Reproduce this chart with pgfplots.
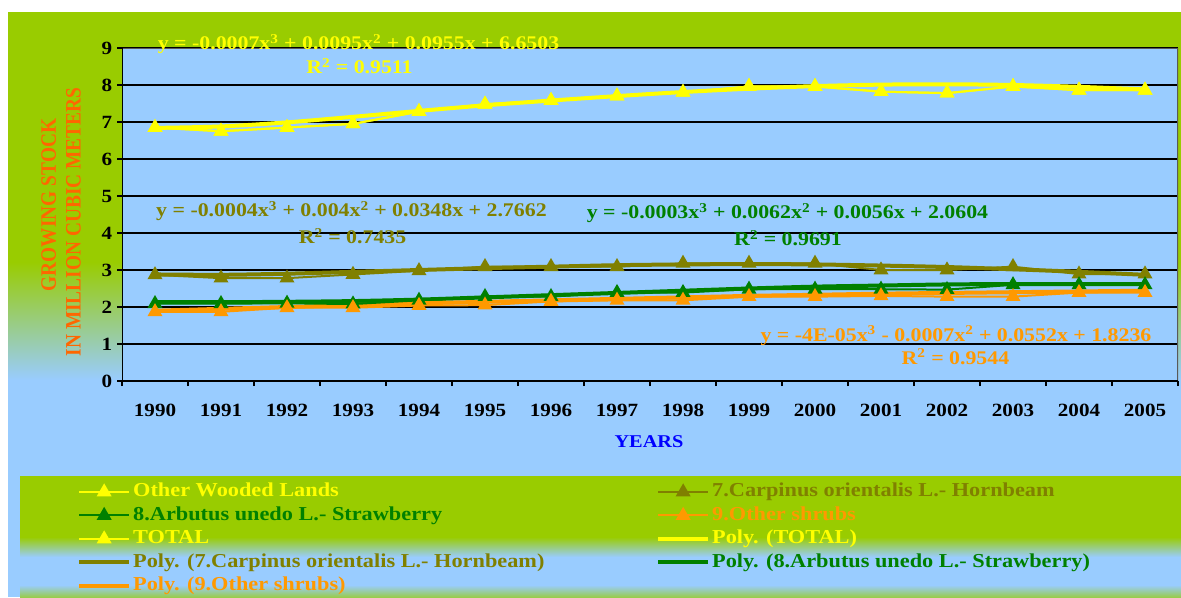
\documentclass[border=0pt]{standalone}
\usepackage{fontspec}
\setmainfont{Liberation Serif}[FakeStretch=1.13]
\newfontfamily\ylabfont{Liberation Serif}[FakeStretch=0.88]
\usepackage{pgfplots}
\usepackage{pgfplotstable}
\pgfplotsset{compat=1.18}
\definecolor{cgreen}{HTML}{99CC00}
\definecolor{cblue}{HTML}{99CCFF}
\definecolor{tyellow}{HTML}{FFFF00}
\definecolor{tolive}{HTML}{808000}
\definecolor{tgreen}{HTML}{008000}
\definecolor{torange}{HTML}{FF9900}
\definecolor{tlabel}{HTML}{FF6600}
\definecolor{tyears}{HTML}{0000FF}

\pgfplotstableread{
x total hornbeam arbutus shrubs
1 6.85 2.87 2.09 1.87
2 6.75 2.78 2.09 1.87
3 6.85 2.78 2.10 1.98
4 6.95 2.88 2.08 1.98
5 7.28 2.98 2.18 2.04
6 7.48 3.09 2.28 2.05
7 7.58 3.09 2.28 2.15
8 7.70 3.09 2.39 2.18
9 7.80 3.18 2.39 2.18
10 7.96 3.18 2.48 2.28
11 7.96 3.18 2.48 2.28
12 7.82 3.00 2.48 2.30
13 7.78 3.00 2.47 2.28
14 7.96 3.09 2.60 2.28
15 7.86 2.89 2.60 2.39
16 7.86 2.89 2.60 2.39
}\datatable

\pgfplotstableread{
x total hornbeam arbutus shrubs
1 6.84 2.88 2.13 1.90
2 6.88 2.87 2.13 1.95
3 6.99 2.90 2.14 2.00
4 7.14 2.95 2.16 2.05
5 7.30 3.00 2.20 2.10
6 7.45 3.05 2.26 2.14
7 7.58 3.09 2.32 2.18
8 7.70 3.13 2.38 2.22
9 7.81 3.15 2.44 2.26
10 7.90 3.16 2.50 2.30
11 7.97 3.15 2.55 2.33
12 8.01 3.12 2.58 2.36
13 8.02 3.08 2.61 2.38
14 8.00 3.02 2.62 2.40
15 7.95 2.95 2.62 2.42
16 7.88 2.87 2.62 2.44
}\trendtable

\newcommand{\eqfont}{\bfseries\fontsize{14.5}{14.5}\selectfont}
\newcommand{\colone}[1]{\makebox[390.75pt][l]{#1}}

\begin{document}
\begin{tikzpicture}
% backgrounds
\fill[white] (0,0) rectangle (885.75pt,447.75pt);
\fill[cgreen] (6pt,251.25pt) rectangle (885.75pt,438.75pt);
\shade[top color=cgreen, bottom color=cblue] (6pt,162.75pt) rectangle (885.75pt,251.25pt);
\fill[cblue] (6pt,0pt) rectangle (885.75pt,162.75pt);
% legend box
\fill[cgreen] (15pt,45pt) rectangle (885.75pt,90.75pt);
\shade[top color=cgreen, bottom color=cblue] (15pt,30pt) rectangle (885.75pt,45pt);
\fill[cblue] (15pt,9pt) rectangle (885.75pt,30pt);
\shade[top color=cblue, bottom color=cgreen!70!cblue] (15pt,0pt) rectangle (885.75pt,9pt);

\begin{axis}[
  at={(91.5pt,162pt)}, anchor=south west,
  scale only axis, width=792pt, height=249.75pt,
  xmin=0.5, xmax=16.5, ymin=0, ymax=9,
  ytick={0,...,9},
  xtick={0.5,1.5,...,16.5}, xticklabels={},
  extra x ticks={1,2,...,16},
  extra x tick labels={1990,1991,1992,1993,1994,1995,1996,1997,1998,1999,2000,2001,2002,2003,2004,2005},
  extra x tick style={major tick length=0pt, grid=none, tick label style={yshift=-13.5pt}},
  tick align=outside, major tick length=3.75pt,
  xtick pos=bottom, ytick pos=left,
  ymajorgrids, grid style={black, line width=1.2pt},
  axis line style={draw=none},
  axis background/.style={fill=cblue},
  tick style={black, line width=1pt},
  tick label style={font=\bfseries\fontsize{14}{14}\selectfont, /pgf/number format/assume math mode=true},
  every mark/.append style={yshift=-1.25pt},
  legend image code/.code={\draw[mark repeat=2,mark phase=2] plot coordinates {(0pt,0pt) (18.75pt,0pt) (37.5pt,0pt)};},
  legend columns=2,
  legend cell align=left,
  legend style={at={(axis description cs:-0.0427,-0.2973)}, anchor=north west,
    draw=none, fill=none, inner sep=0pt, column sep=1.5pt, row sep=0pt,
    font=\bfseries\fontsize{14.8}{14.8}\selectfont,
    nodes={inner sep=0pt, text height=12.3pt, text depth=5.3pt}},
]
% trend lines
\addplot[forget plot, tyellow, line width=3pt, smooth] table[x=x,y=total] {\trendtable};
\addplot[forget plot, tolive, line width=3pt, smooth] table[x=x,y=hornbeam] {\trendtable};
\addplot[forget plot, tgreen, line width=3pt, smooth] table[x=x,y=arbutus] {\trendtable};
\addplot[forget plot, torange, line width=3pt, smooth] table[x=x,y=shrubs] {\trendtable};
% data series
\addplot[forget plot, tyellow, line width=1.5pt, mark=triangle*, mark size=5pt] table[x=x,y=total] {\datatable};
\addplot[forget plot, tolive, line width=1.5pt, mark=triangle*, mark size=5pt] table[x=x,y=hornbeam] {\datatable};
\addplot[forget plot, tgreen, line width=1.5pt, mark=triangle*, mark size=5pt] table[x=x,y=arbutus] {\datatable};
\addplot[forget plot, torange, line width=1.5pt, mark=triangle*, mark size=5pt] table[x=x,y=shrubs] {\datatable};
\addplot[forget plot, tyellow, line width=1.5pt, mark=triangle*, mark size=5pt] table[x=x,y=total] {\datatable};
% axis frame
\draw[gray!70!black, line width=1pt] (rel axis cs:0,1) -- (rel axis cs:1,1) -- (rel axis cs:1,0);
\draw[black, line width=1.5pt] (rel axis cs:0,1) -- (rel axis cs:0,0) -- (rel axis cs:1,0);
% legend
\addlegendimage{tyellow, line width=1.5pt, mark=triangle*, mark size=5pt}
\addlegendentry{\colone{\textcolor{tyellow}{Other Wooded Lands}}}
\addlegendimage{tolive, line width=1.5pt, mark=triangle*, mark size=5pt}
\addlegendentry{\textcolor{tolive}{7.Carpinus orientalis L.- Hornbeam}}
\addlegendimage{tgreen, line width=1.5pt, mark=triangle*, mark size=5pt}
\addlegendentry{\colone{\textcolor{tgreen}{8.Arbutus unedo L.- Strawberry}}}
\addlegendimage{torange, line width=1.5pt, mark=triangle*, mark size=5pt}
\addlegendentry{\textcolor{torange}{9.Other shrubs}}
\addlegendimage{tyellow, line width=1.5pt, mark=triangle*, mark size=5pt}
\addlegendentry{\colone{\textcolor{tyellow}{TOTAL}}}
\addlegendimage{tyellow, line width=3pt}
\addlegendentry{\textcolor{tyellow}{Poly. (TOTAL)}}
\addlegendimage{tolive, line width=3pt}
\addlegendentry{\colone{\textcolor{tolive}{Poly. (7.Carpinus orientalis L.- Hornbeam)}}}
\addlegendimage{tgreen, line width=3pt}
\addlegendentry{\textcolor{tgreen}{Poly. (8.Arbutus unedo L.- Strawberry)}}
\addlegendimage{torange, line width=3pt}
\addlegendentry{\colone{\textcolor{torange}{Poly. (9.Other shrubs)}}}
\end{axis}

% axis titles
\node[font=\ylabfont\bfseries\fontsize{16.5}{16.5}\selectfont, text=tlabel, rotate=90] at (36.5pt,294pt) {GROWING STOCK};
\node[font=\ylabfont\bfseries\fontsize{16.5}{16.5}\selectfont, text=tlabel, rotate=90] at (55pt,281.25pt) {IN MILLION CUBIC METERS};
\node[anchor=base, font=\bfseries\fontsize{13.5}{13.5}\selectfont, text=tyears] at (486.75pt,112.5pt) {YEARS};

% trendline equations
\node[anchor=base, text=tyellow, font=\eqfont] at (268.9pt,410.25pt) {y = -0.0007x\textsuperscript{3} + 0.0095x\textsuperscript{2} + 0.0955x + 6.6503};
\node[anchor=base, text=tyellow, font=\eqfont] at (269.6pt,392.25pt) {R\textsuperscript{2} = 0.9511};
\node[anchor=base, text=tolive, font=\eqfont] at (263.6pt,285pt) {y = -0.0004x\textsuperscript{3} + 0.004x\textsuperscript{2} + 0.0348x + 2.7662};
\node[anchor=base, text=tolive, font=\eqfont] at (264.4pt,264.75pt) {R\textsuperscript{2} = 0.7435};
\node[anchor=base, text=tgreen, font=\eqfont] at (590.6pt,283.5pt) {y = -0.0003x\textsuperscript{3} + 0.0062x\textsuperscript{2} + 0.0056x + 2.0604};
\node[anchor=base, text=tgreen, font=\eqfont] at (591pt,263.25pt) {R\textsuperscript{2} = 0.9691};
\node[anchor=base, text=torange, font=\eqfont] at (717pt,192pt) {y = -4E-05x\textsuperscript{3} - 0.0007x\textsuperscript{2} + 0.0552x + 1.8236};
\node[anchor=base, text=torange, font=\eqfont] at (716.6pt,174.75pt) {R\textsuperscript{2} = 0.9544};

\pgfresetboundingbox
\useasboundingbox (0,0) rectangle (885.75pt,447.75pt);
\end{tikzpicture}
\end{document}
